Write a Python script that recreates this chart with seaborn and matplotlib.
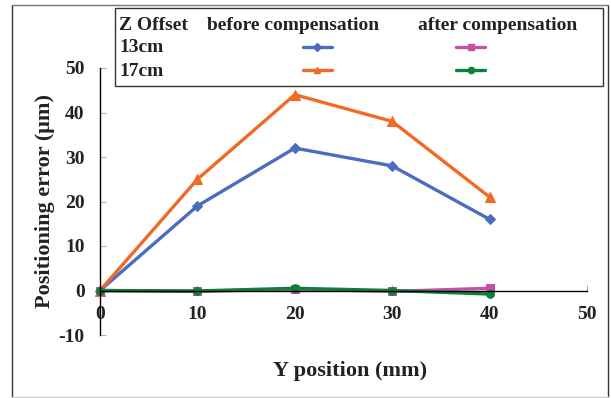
import numpy as np
import pandas as pd
import matplotlib
matplotlib.use("Agg")
import matplotlib.pyplot as plt
from matplotlib.lines import Line2D
from matplotlib.patches import Rectangle
import seaborn as sns

# ---- data ----
y_pos = [0, 10, 20, 30, 40]
before_13 = [0, 19, 32, 28, 16]
before_17 = [0, 25, 44, 38, 21]
after_13 = [0, -0.2, 0.3, -0.2, 0.5]
after_17 = [0, -0.1, 0.5, 0.0, -0.8]
x_ticks = [0, 10, 20, 30, 40, 50]
y_ticks = [-10, 0, 10, 20, 30, 40, 50]

sns.set_theme(style="white")
plt.rcParams['font.family'] = ['Liberation Serif', 'DejaVu Serif']
plt.rcParams['font.weight'] = 'bold'

TXT = "#222222"
C_BLUE = "#4a6dc0"
C_ORANGE = "#f06a25"
C_MAG = "#c052a8"
C_GREEN = "#0f7f3c"

fig = plt.figure(figsize=(6.11, 3.98), dpi=100)
W, H = 611, 398
def fx(px): return px / W
def fy(py): return 1 - py / H

ax = fig.add_axes([fx(100), fy(335), fx(587) - fx(100), fy(68) - fy(335)])

series = [
    (before_13, C_BLUE, "D", 5.5),
    (before_17, C_ORANGE, "^", 6.5),
    (after_13, C_MAG, "s", 6),
    (after_17, C_GREEN, "o", 5.5),
]
for vals, col, mk, ms in series:
    df = pd.DataFrame({"x": y_pos, "y": vals})
    sns.lineplot(data=df, x="x", y="y", ax=ax, color=col, marker=mk,
                 markersize=ms, markeredgecolor=col, linewidth=2.4,
                 clip_on=False, legend=False)

ax.set_xlim(0, 50)
ax.set_ylim(-10, 50)
ax.set_xticks(x_ticks)
ax.set_yticks(y_ticks)
ax.set_xticklabels([str(v) for v in x_ticks])
ax.set_yticklabels([str(v) for v in y_ticks])

for s in ["top", "right"]:
    ax.spines[s].set_visible(False)
ax.spines["bottom"].set_position(("data", 0))
ax.spines["left"].set_color("black")
ax.spines["bottom"].set_color("black")
ax.spines["left"].set_linewidth(1.0)
ax.spines["bottom"].set_linewidth(1.0)

ax.tick_params(axis="both", direction="in", length=4, width=0.8,
               color="#b0b0b0", labelsize=14, labelcolor=TXT)
ax.tick_params(axis="x", pad=11, bottom=True)
ax.tick_params(axis="y", pad=11, left=True)
for lbl in ax.get_xticklabels() + ax.get_yticklabels():
    lbl.set_fontweight("bold")

ax.set_xlabel("Y position (mm)", fontsize=16, fontweight="bold", color=TXT)
ax.set_ylabel("Positioning error (μm)", fontsize=16, fontweight="bold", color=TXT)
ax.xaxis.set_label_coords(0.513, -0.097)
ax.yaxis.set_label_coords(-0.092, 0.5)

# ---- outer frame ----
for xs, ys, col in [
    ([12, 12], [5, 397], "#333333"),
    ([608, 608], [5, 397], "#333333"),
    ([12, 608], [5, 5], "#777777"),
    ([12, 608], [396.5, 396.5], "#cccccc"),
]:
    fig.add_artist(Line2D([fx(v) for v in xs], [fy(v) for v in ys],
                          transform=fig.transFigure, color=col, linewidth=1.0))

# ---- legend table ----
fig.patches.append(Rectangle((fx(115), fy(86)), fx(603) - fx(115), fy(8) - fy(86),
                             transform=fig.transFigure, fill=True, facecolor="white",
                             edgecolor="#333333", linewidth=1.0, zorder=5))
lfs = 14
fig.text(fx(119), fy(25), "Z Offset", fontsize=lfs, fontweight="bold", color=TXT, va="center", zorder=6)
fig.text(fx(207), fy(25), "before compensation", fontsize=lfs, fontweight="bold", color=TXT, va="center", zorder=6)
fig.text(fx(418), fy(25), "after compensation", fontsize=lfs, fontweight="bold", color=TXT, va="center", zorder=6)
fig.text(fx(119), fy(48), "13cm", fontsize=lfs, fontweight="bold", color=TXT, va="center", zorder=6)
fig.text(fx(119), fy(71), "17cm", fontsize=lfs, fontweight="bold", color=TXT, va="center", zorder=6)

handles = [
    (303, 332, 47, C_BLUE, "D", 4.5),
    (456, 485, 47, C_MAG, "s", 5),
    (303, 332, 70, C_ORANGE, "^", 5),
    (456, 485, 70, C_GREEN, "o", 4.5),
]
for x0, x1, yy, col, mk, ms in handles:
    fig.add_artist(Line2D([fx(x0), fx(x1)], [fy(yy), fy(yy)], transform=fig.transFigure,
                          color=col, linewidth=2.4, zorder=6))
    fig.add_artist(Line2D([fx((x0 + x1) / 2)], [fy(yy)], transform=fig.transFigure,
                          color=col, marker=mk, markersize=ms, linestyle="none", zorder=7))

fig.savefig("out.png", dpi=100)
